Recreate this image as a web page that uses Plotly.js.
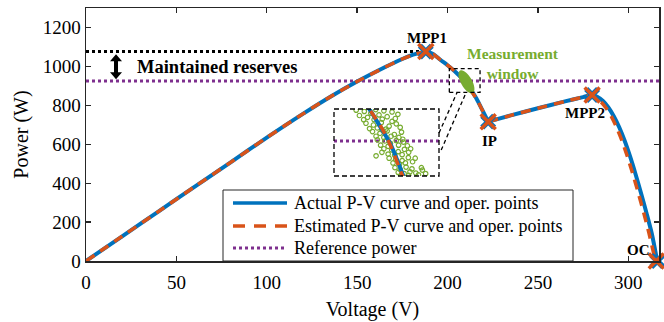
<!DOCTYPE html>
<html>
<head>
<meta charset="utf-8">
<script src="https://cdn.plot.ly/plotly-3.0.1.min.js"></script>
<style>html,body{margin:0;padding:0;background:#fff;}#chart{width:664px;height:322px;}</style>
</head>
<body>
<div id="chart"></div>
<script>
// ---------- data ----------
const voltageActual = [0, 20, 40, 60, 80, 100, 120, 135, 150, 165, 175, 181, 185, 188, 192, 196, 200, 204, 207, 210, 213, 216, 219, 222.5, 235, 250, 265, 275, 280, 283, 286, 289, 292, 295, 298, 301, 304, 307, 310, 313, 316];
const powerActual   = [0, 127, 254, 381, 507, 634, 756, 843, 922, 994, 1038, 1060, 1070, 1076, 1064, 1034, 1006, 975, 948, 920, 880, 835, 780, 716, 748, 785, 820, 842, 853, 843, 822, 789, 744, 687, 618, 537, 447, 351, 249, 141, 0];
const voltageEst    = [0, 20, 40, 60, 80, 100, 120, 135, 150, 165, 175, 181, 185, 188, 192, 196, 200, 204, 207, 210, 213, 216, 219, 222.5, 235, 250, 265, 275, 280, 282, 284.5, 287.5, 290.5, 293.5, 296.5, 299.5, 302.5, 305.5, 308.5, 311.5, 315];
const powerEst      = [0, 127, 254, 381, 507, 634, 756, 843, 922, 994, 1038, 1060, 1070, 1076, 1064, 1034, 1006, 975, 950, 918, 876, 833, 780, 716, 748, 785, 820, 842, 853, 843, 822, 789, 744, 687, 618, 537, 447, 351, 249, 141, 0];

const operLabels   = ['MPP1', 'IP', 'MPP2', 'OC'];
const operVActual  = [188, 222.5, 280, 316];
const operPActual  = [1076, 716, 853, 0];
const operVEst     = [188, 222.5, 280, 315.5];
const operPEst     = [1076, 716, 853, 0];

const referencePower = 925;   // W
const maxPower = 1076;        // W (MPP1)

// measurement samples inside the window (V, W)
const measV = [199.5, 202.0, 205.5, 208.0, 210.5, 204.0,
               200.5, 203.0, 206.5, 209.0, 211.5, 205.0, 207.5, 201.8, 212.3,
               202.5, 204.8, 207.2, 209.6, 211.8, 206.0, 203.6, 208.6, 213.0, 210.5,
               204.5, 206.8, 209.0, 211.2, 213.4, 205.6, 208.0, 210.2, 212.6, 207.4,
               206.0, 208.3, 210.0, 211.8, 214.0, 207.0, 209.3, 212.5, 213.8, 215.2,
               208.0, 210.4, 212.4, 214.3, 209.3, 211.3, 213.6, 215.6, 216.2, 207.4, 205.6,
               209.6, 211.6, 213.6, 215.5, 210.8, 212.8, 214.6, 216.8, 217.6,
               211.4, 213.0, 214.8, 216.6, 212.4, 214.2, 216.0, 217.8, 219.5, 213.2, 215.6, 218.6, 220.8, 219.8];
const measP = [977, 975, 978, 976, 974, 972,
               968, 965, 969, 966, 963, 961, 962, 961, 970,
               955, 952, 956, 950, 954, 947, 946, 945, 948, 958,
               941, 938, 942, 936, 940, 933, 931, 933, 931, 944,
               927, 925, 921, 926, 923, 918, 916, 918, 928, 917,
               912, 910, 907, 911, 903, 901, 902, 906, 912, 906, 900,
               896, 894, 892, 897, 888, 886, 888, 890, 896,
               880, 877, 881, 878, 872, 870, 873, 871, 880, 867, 867, 868, 870, 876];

const xTicks = [0, 50, 100, 150, 200, 250, 300];
const yTicks = [0, 200, 400, 600, 800, 1000, 1200];
const legendNames = ['Actual P-V curve and oper. points', 'Estimated P-V curve and oper. points', 'Reference power'];

// ---------- styles ----------
const BLUE = '#0072BD', ORANGE = '#D95319', PURPLE = '#7E2F8E', GREEN = '#77AC30', INK = '#000000';
const FONT = 'Liberation Serif, Times New Roman, serif';
const X_MAX = 317, Y_MAX = 1300;
const inset = { xr: [192.7, 224.9], yr: [866, 979] };

// split the curves at the inflection point (IP) so the corner stays sharp
const ipA = voltageActual.indexOf(operVActual[1]);
const ipE = voltageEst.indexOf(operVEst[1]);
const seg = (xs, ys, i) => [[xs.slice(0, i + 1), ys.slice(0, i + 1)], [xs.slice(i), ys.slice(i)]];
const segA = seg(voltageActual, powerActual, ipA);
const segE = seg(voltageEst, powerEst, ipE);

const blueLine = {color: BLUE, width: 4, shape: 'spline', smoothing: 0.8};
const orangeLine = {color: ORANGE, width: 3.5, dash: '10px,7px', shape: 'spline', smoothing: 0.8};

const traces = [
  {x: [0, X_MAX], y: [referencePower, referencePower], mode: 'lines', line: {color: PURPLE, width: 3, dash: 'dot'}},
  {x: [0, operVActual[0]], y: [maxPower, maxPower], mode: 'lines', line: {color: INK, width: 3, dash: 'dot'}},
];
segA.forEach(s => traces.push({x: s[0], y: s[1], mode: 'lines', line: blueLine}));
segE.forEach(s => traces.push({x: s[0], y: s[1], mode: 'lines', line: orangeLine}));
traces.push(
  {x: operVActual, y: operPActual, mode: 'markers', marker: {symbol: 'x', size: 14, color: BLUE, line: {width: 0}}, cliponaxis: false},
  {x: operVEst, y: operPEst, mode: 'markers', marker: {symbol: 'x-thin', size: 15, line: {color: ORANGE, width: 3.5}}, cliponaxis: false},
  // inset
  {x: [inset.xr[0], inset.xr[1]], y: [referencePower, referencePower], xaxis: 'x2', yaxis: 'y2', mode: 'lines', line: {color: PURPLE, width: 3, dash: 'dot'}},
  {x: measV, y: measP, xaxis: 'x2', yaxis: 'y2', mode: 'markers', marker: {symbol: 'circle-open', size: 4.5, color: GREEN, line: {width: 1.2, color: GREEN}}, cliponaxis: true}
);
segA.forEach(s => traces.push({x: s[0], y: s[1], xaxis: 'x2', yaxis: 'y2', mode: 'lines', line: blueLine}));
segE.forEach(s => traces.push({x: s[0], y: s[1], xaxis: 'x2', yaxis: 'y2', mode: 'lines', line: orangeLine}));

// plot area in pixels: left 86, right 659, top 8, bottom 261
const PX = {l: 86, r: 659, t: 8, b: 261};
const px2paperX = p => (p - PX.l) / (PX.r - PX.l);
const px2paperY = p => (PX.b - p) / (PX.b - PX.t);

const ellipsePath = 'M6.4,-11.3 C9.05,-9.81 8.3,-3.5 4.8,2.7 C1.3,8.9 -3.75,12.79 -6.4,11.3 C-9.05,9.81 -8.3,3.5 -4.8,-2.7 C-1.3,-8.9 3.75,-12.79 6.4,-11.3 Z';
const doubleArrowPath = 'M0,12.5 L6,5.5 L2,5.5 L2,-5.5 L6,-5.5 L0,-12.5 L-6,-5.5 L-2,-5.5 L-2,5.5 L-6,5.5 Z';
const DASH = {color: INK, width: 1.3, dash: '4px,3px'};

const shapes = [
  {type: 'path', xref: 'x', yref: 'y', xsizemode: 'pixel', ysizemode: 'pixel', xanchor: 210.5, yanchor: 921, path: ellipsePath, fillcolor: GREEN, line: {width: 0}},
  {type: 'path', xref: 'x', yref: 'y', xsizemode: 'pixel', ysizemode: 'pixel', xanchor: 16.6, yanchor: (referencePower + maxPower) / 2 - 3, path: doubleArrowPath, fillcolor: INK, line: {width: 0}},
  {type: 'rect', xref: 'x', yref: 'y', x0: 201, x1: 218, y0: 866, y1: 989, line: DASH},
  {type: 'line', xref: 'x', yref: 'y', x0: 195.3, y0: 658, x1: 205.3, y1: 866, line: DASH},
  {type: 'line', xref: 'x', yref: 'y', x0: 196.5, y0: 570, x1: 210.3, y1: 866, line: DASH},
  {type: 'rect', xref: 'x2 domain', yref: 'y2 domain', x0: 0, x1: 1, y0: 0, y1: 1, line: {color: INK, width: 1.3, dash: '5px,3px'}},
  // legend
  {type: 'rect', xref: 'paper', yref: 'paper', x0: px2paperX(223), x1: px2paperX(573), y0: 0, y1: px2paperY(190), line: {color: '#262626', width: 1}, fillcolor: '#fff', layer: 'above'},
  {type: 'line', xref: 'paper', yref: 'paper', x0: px2paperX(233), x1: px2paperX(287), y0: px2paperY(203), y1: px2paperY(203), line: {color: BLUE, width: 3.5}, layer: 'above'},
  {type: 'line', xref: 'paper', yref: 'paper', x0: px2paperX(233), x1: px2paperX(287), y0: px2paperY(226), y1: px2paperY(226), line: {color: ORANGE, width: 3.5, dash: '12px,9px'}, layer: 'above'},
  {type: 'line', xref: 'paper', yref: 'paper', x0: px2paperX(233), x1: px2paperX(284), y0: px2paperY(248), y1: px2paperY(248), line: {color: PURPLE, width: 3, dash: 'dot'}, layer: 'above'}
];

const bold = (s, c, sz) => ({text: '<b>' + s + '</b>', font: {family: FONT, size: sz || 15, color: c || INK}, showarrow: false});
const annotations = [
  Object.assign(bold('Maintained reserves', INK, 18.5), {x: 27, y: 997, xanchor: 'left', yanchor: 'middle'}),
  Object.assign(bold(operLabels[0]), {x: 188.7, y: 1146, xanchor: 'center', yanchor: 'middle'}),
  Object.assign(bold('Measurement<br>window', GREEN, 15.5), {x: 236.3, y: 1014, xanchor: 'center', yanchor: 'middle', align: 'center'}),
  Object.assign(bold(operLabels[1]), {x: 223, y: 617, xanchor: 'center', yanchor: 'middle'}),
  Object.assign(bold(operLabels[2]), {x: 276, y: 760, xanchor: 'center', yanchor: 'middle'}),
  Object.assign(bold(operLabels[3]), {x: 305.5, y: 57, xanchor: 'center', yanchor: 'middle'})
];
legendNames.forEach((n, i) => {
  annotations.push({xref: 'paper', yref: 'paper', x: px2paperX(292), y: px2paperY([203, 226, 248][i]), xanchor: 'left', yanchor: 'middle',
    text: n, showarrow: false, font: {family: FONT, size: 18, color: INK}});
});

const axisCommon = {showgrid: false, zeroline: false, showline: true, linecolor: '#262626', linewidth: 1.5, mirror: 'ticks',
  ticks: 'inside', ticklen: 5, tickwidth: 1.3, tickcolor: '#262626', tickfont: {family: FONT, size: 19, color: INK}};

const layout = {
  width: 664, height: 322,
  font: {family: FONT, size: 19, color: INK},
  margin: {l: PX.l, r: 664 - PX.r, t: PX.t, b: 322 - PX.b},
  paper_bgcolor: '#fff', plot_bgcolor: '#fff',
  showlegend: false,
  xaxis: Object.assign({}, axisCommon, {range: [0, X_MAX], tickvals: xTicks, ticktext: xTicks.map(String), ticklabelstandoff: 4,
    title: {text: 'Voltage (V)', font: {family: FONT, size: 20, color: INK}, standoff: 9}}),
  yaxis: Object.assign({}, axisCommon, {range: [0, Y_MAX], tickvals: yTicks, ticktext: yTicks.map(String),
    title: {text: 'Power (W)', font: {family: FONT, size: 20, color: INK}, standoff: 8}}),
  xaxis2: {domain: [px2paperX(334), px2paperX(439)], range: inset.xr, anchor: 'y2', visible: false},
  yaxis2: {domain: [px2paperY(176), px2paperY(109)], range: inset.yr, anchor: 'x2', visible: false},
  shapes: shapes,
  annotations: annotations
};

Plotly.newPlot('chart', traces, layout, {staticPlot: true, displayModeBar: false});
</script>
</body>
</html>
